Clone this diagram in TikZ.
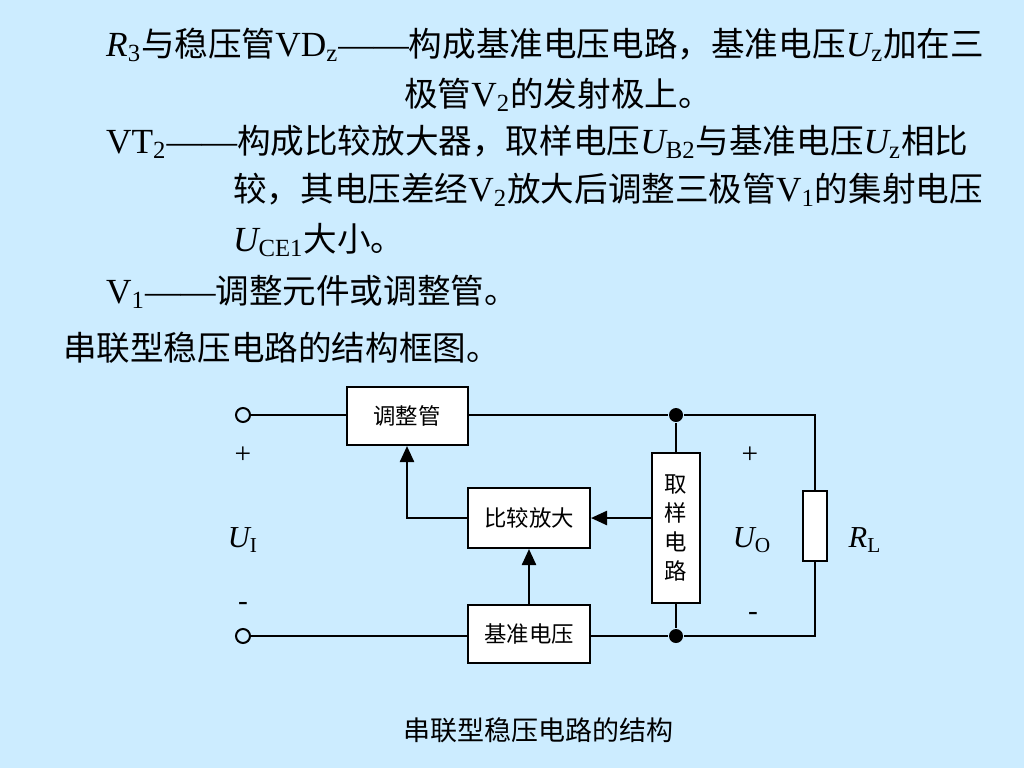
\documentclass[tikz,border=0pt]{standalone}
\usepackage{fontspec}
\setmainfont{Noto Sans CJK SC}
\newfontfamily\tms{Liberation Serif}[Scale=1.05]
\usetikzlibrary{arrows.meta,positioning}
\definecolor{fondo}{RGB}{204,236,255}
\newcommand\itl[2]{{\tms\itshape #1\upshape\textsubscript{#2}}}
\newcommand\upl[2]{{\tms #1\textsubscript{#2}}}
\newcommand\raya{{\tms ——}}

\begin{document}
\begin{tikzpicture}[
            x=0.5pt, y=-0.5pt,
            line width=1.2pt,
            texto/.style={
                    anchor=west,
                    inner sep=0pt,
                    font=\fontsize{16.8}{20}\selectfont
                },
            bloque/.style={
                    draw,
                    fill=white,
                    line width=1pt,
                    inner sep=0pt,
                    align=center,
                    font=\fontsize{11.2}{14.5}\selectfont
                },
            borne/.style={draw, circle, minimum size=7pt, inner sep=0pt, line width=1pt},
            nudo/.style={fill, circle, minimum size=7pt, inner sep=0pt},
            signo/.style={font=\tms\fontsize{14}{16}\selectfont},
            magnitud/.style={font=\tms\fontsize{14.5}{16}\selectfont},
            flecha/.style={-{Triangle[length=8pt,width=7pt]}}
            ]

            % Fondo
            \fill[fondo] (0,0) rectangle (1024,768);

            % Texto explicativo
            \node[texto] (l1) at (105,45)
            {\itl{R}{3}与稳压管\upl{VD}{z}\raya 构成基准电压电路，基准电压\itl{U}{z}加在三};
            \node[texto] (l2) at (403,95) {极管\upl{V}{2}的发射极上。};
            \node[texto] (l3) at (105,142)
            {\upl{VT}{2}\raya 构成比较放大器，取样电压\itl{U}{B2}与基准电压\itl{U}{z}相比};
            \node[texto] (l4) at (232,190)
            {较，其电压差经\upl{V}{2}放大后调整三极管\upl{V}{1}的集射电压};
            \node[texto] (l5) at (232,240) {\itl{U}{CE1}大小。};
            \node[texto] (l6) at (105,292) {\upl{V}{1}\raya 调整元件或调整管。};
            \node[texto] (l7) at (62,348) {串联型稳压电路的结构框图。};

            % Bloques
            \node[bloque, minimum width=60.5pt, minimum height=29pt] (reg) at (407,416) {调整管};
            \node[bloque, minimum width=61pt, minimum height=30pt] (cmp) at (529,518) {比较放大};
            \node[bloque, minimum width=61pt, minimum height=29pt] (ref) at (529,634) {基准电压};
            \node[bloque, minimum width=24pt, minimum height=75pt] (samp) at (676,528)
            {取\\样\\电\\路};
            \node[bloque, minimum width=12pt, minimum height=35pt] (rl) at (815,526) {};

            % Bornes y nudos
            \node[borne] (tin) at (243,415) {};
            \node[borne] (tgnd) at (243,636) {};
            \node[nudo] (jtop) at (676,415) {};
            \node[nudo] (jbot) at (676,636) {};
            \coordinate (ctr) at (815,415);
            \coordinate (cbr) at (815,636);

            % Conexiones
            \draw (tin) -- (tin -| reg.west);
            \draw (reg.east |- jtop) -- (jtop) -- (ctr) -- (rl.north);
            \draw (tgnd) -- (tgnd -| ref.west);
            \draw (ref.east |- jbot) -- (jbot) -- (cbr) -- (rl.south);
            \draw (jtop) -- (samp.north);
            \draw (samp.south) -- (jbot);
            \draw[flecha] (samp.west |- cmp) -- (cmp.east);
            \draw[flecha] (ref.north) -- (cmp.south);
            \draw[flecha] (cmp.west) -| (reg.south);

            % Etiquetas
            \node[signo] (pin) at (243,455) {+};
            \node[magnitud] (uin) at (243,540) {\itshape U\upshape\textsubscript{I}};
            \node[signo] (min) at (243,606) {-};
            \node[signo] (pout) at (750,455) {+};
            \node[magnitud] (uout) at (752,540) {\itshape U\upshape\textsubscript{O}};
            \node[signo] (mout) at (753,616) {-};
            \node[magnitud] (rll) at (865,540) {\itshape R\upshape\textsubscript{L}};

            \node[font=\fontsize{13.5}{16}\selectfont] (cap) at (538,730) {串联型稳压电路的结构};

        \end{tikzpicture}
\end{document}
